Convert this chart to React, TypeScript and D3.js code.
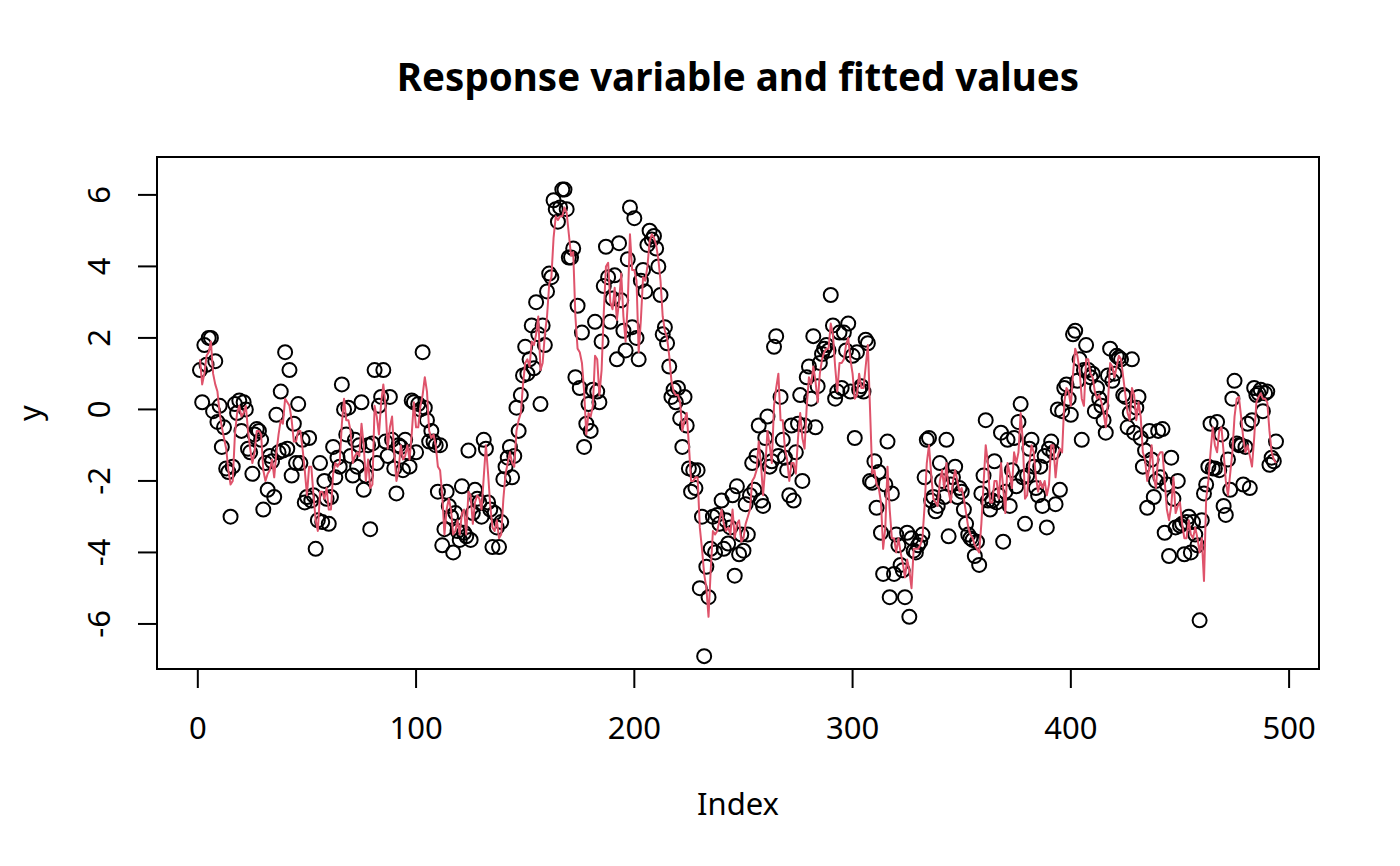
import { useEffect, useRef } from 'react';
import * as d3 from 'd3';

// observed response (Index 1..494)
const yValues: number[] = [
  1.1, 0.2, 1.8, 1.25, 2.0, 2.0, -0.05, 1.35, -0.35, 0.1,
  -1.05, -0.5, -1.65, -1.75, -3.0, -1.6, 0.15, -0.1, 0.25, -0.6,
  0.2, 0.0, -1.1, -1.2, -1.8, -0.7, -0.55, -0.6, -0.85, -2.8,
  -1.5, -2.25, -1.3, -1.45, -2.45, -0.15, -1.2, 0.5, -1.15, 1.6,
  -1.1, 1.1, -1.85, -0.4, -1.5, 0.15, -1.5, -0.85, -2.6, -2.45,
  -0.8, -2.55, -2.4, -3.9, -3.1, -1.5, -3.15, -2.0, -2.5, -3.2,
  -2.45, -1.05, -1.9, -1.35, -1.6, 0.7, 0.0, -0.7, 0.05, -1.3,
  -1.85, -0.85, -1.6, -1.0, 0.2, -2.25, -1.85, -1.0, -3.35, -0.95,
  1.1, -1.5, 0.1, 0.35, 1.1, -0.9, -1.3, 0.35, -0.85, -1.65,
  -2.35, -1.0, -1.05, -1.7, -0.85, -1.2, -1.6, 0.25, 0.2, -1.2,
  0.15, 0.0, 1.6, 0.05, -0.3, -0.9, -0.6, -0.9, -1.0, -2.3,
  -1.0, -3.8, -3.35, -2.3, -2.7, -3.0, -4.0, -2.9, -3.4, -3.65,
  -2.15, -3.45, -3.55, -1.15, -3.65, -2.9, -2.25, -2.5, -2.6, -3.0,
  -0.85, -1.1, -2.6, -2.8, -3.85, -2.9, -3.3, -3.85, -3.15, -1.95,
  -1.6, -1.35, -1.05, -1.9, -1.3, 0.05, -0.6, 0.4, 0.95, 1.75,
  1.0, 1.4, 2.35, 1.15, 3.0, 2.1, 0.15, 2.35, 1.8, 3.3,
  3.8, 3.7, 5.85, 5.6, 5.25, 5.65, 6.15, 6.15, 5.6, 4.25,
  4.25, 4.5, 0.9, 2.9, 0.6, 2.15, -1.05, -0.4, 0.15, -0.6,
  0.55, 2.45, 0.5, 0.2, 1.9, 3.45, 4.55, 3.7, 2.45, 3.1,
  3.75, 1.4, 4.65, 3.05, 2.2, 1.65, 4.2, 5.65, 2.3, 5.35,
  2.0, 1.4, 3.6, 3.9, 3.3, 4.6, 5.0, 4.75, 4.85, 4.5,
  4.0, 3.2, 2.1, 2.3, 1.85, 1.2, 0.35, 0.55, 0.2, 0.6,
  -0.25, -1.05, 0.35, -0.45, -1.65, -2.3, -1.7, -2.2, -1.7, -5.0,
  -3.0, -6.9, -4.4, -5.25, -3.9, -3.0, -4.0, -2.95, -3.2, -2.55,
  -3.9, -3.1, -3.75, -3.3, -2.4, -4.65, -2.15, -4.05, -3.5, -3.95,
  -2.65, -3.5, -2.4, -1.5, -2.25, -1.3, -0.45, -2.55, -2.7, -0.8,
  -0.2, -1.6, -1.45, 1.75, 2.05, -1.3, 0.35, -0.85, -1.35, -1.7,
  -2.4, -0.45, -2.55, -1.2, -0.4, 0.4, -2.0, -0.45, 0.9, 1.2,
  0.3, 2.05, -0.5, 0.65, 1.3, 1.55, 1.7, 1.8, 1.65, 3.2,
  2.35, 0.3, 0.5, 2.15, 0.6, 2.15, 1.65, 2.4, 0.5, 1.5,
  -0.8, 1.6, 0.55, 0.65, 0.5, 1.95, 1.85, -2.0, -2.05, -1.45,
  -2.75, -1.75, -3.45, -4.6, -2.1, -0.9, -5.25, -2.35, -4.6, -3.5,
  -3.8, -4.35, -4.5, -5.25, -3.45, -5.8, -3.6, -3.95, -4.0, -3.8,
  -3.7, -3.5, -1.9, -0.85, -0.8, -2.55, -2.45, -2.85, -2.7, -1.5,
  -2.0, -2.45, -0.85, -3.55, -2.1, -1.9, -1.6, -2.45, -2.2, -2.3,
  -2.8, -3.2, -3.5, -3.6, -3.65, -4.1, -3.7, -4.35, -2.35, -1.85,
  -0.3, -2.55, -2.8, -2.55, -1.45, -2.6, -2.4, -0.65, -3.7, -2.3,
  -0.85, -2.7, -1.7, -0.8, -2.15, -0.35, 0.15, -1.9, -3.2, -1.85,
  -1.1, -0.85, -1.6, -2.2, -2.4, -1.6, -2.7, -1.3, -3.3, -1.1,
  -0.9, -1.2, -2.65, 0.0, -2.25, -0.05, 0.6, 0.7, 0.3, -0.15,
  2.1, 2.2, 0.8, 1.4, -0.85, 1.1, 1.8, 1.1, 0.9, 1.0,
  -0.05, 0.6, 0.3, 0.1, -0.3, -0.65, 0.95, 1.7, 0.8, 1.0,
  1.5, 1.45, 1.4, 0.4, 0.35, -0.5, -0.1, 1.4, -0.65, 0.05,
  0.35, -0.8, -1.6, -1.15, -2.75, -0.6, -1.4, -2.45, -2.0, -0.6,
  -1.9, -0.55, -3.45, -2.1, -4.1, -1.35, -2.5, -3.3, -2.0, -3.25,
  -3.2, -4.05, -3.15, -3.0, -4.0, -3.15, -3.5, -3.8, -5.9, -3.1,
  -2.35, -2.1, -1.6, -0.4, -1.65, -1.65, -0.35, -1.7, -0.7, -2.7,
  -2.95, -1.4, -2.25, 0.3, 0.8, -0.95, -1.0, -1.0, -2.1, -1.05,
  -0.4, -2.2, -0.3, 0.6, 0.4, 0.45, 0.55, -0.05, 0.45, 0.5,
  -1.55, -1.35, -1.45, -0.9,
];

// fitted values (red line)
const fittedValues: number[] = [
  1.4, 0.7, 1.0, 1.5, 1.6, 1.9, 1.0, 0.7, 0.5, -0.1,
  -0.5, -0.8, -1.1, -1.7, -2.1, -2.0, -0.7, -0.1, 0.1, -0.2,
  -0.1, 0.1, -0.6, -1.1, -1.5, -1.2, -0.6, -0.6, -0.7, -1.7,
  -2.0, -1.8, -1.7, -1.4, -1.9, -1.2, -0.7, -0.3, -0.4, 0.3,
  0.2, 0.1, -0.3, -0.9, -0.9, -0.6, -0.6, -1.1, -1.7, -2.4,
  -1.6, -1.6, -2.4, -3.1, -3.4, -2.3, -2.3, -2.5, -2.2, -2.8,
  -2.8, -1.8, -1.5, -1.6, -1.5, -0.4, 0.3, -0.3, -0.3, -0.6,
  -1.5, -1.3, -1.2, -1.3, -0.4, -1.0, -2.0, -1.4, -2.2, -2.1,
  0.1, -0.2, -0.7, 0.2, 0.7, 0.1, -1.1, -0.5, -0.2, -1.2,
  -2.0, -1.7, -1.0, -1.4, -1.3, -1.0, -1.4, -0.7, 0.2, -0.5,
  -0.5, 0.1, 0.4, 0.9, 0.5, -0.6, -0.8, -0.7, -1.0, -1.6,
  -1.7, -2.4, -3.5, -2.8, -2.5, -2.8, -3.5, -3.4, -3.1, -3.5,
  -2.9, -2.8, -3.5, -2.3, -2.4, -3.2, -2.6, -2.4, -2.5, -2.8,
  -1.9, -1.0, -1.8, -2.7, -3.3, -3.4, -3.1, -3.6, -3.5, -2.5,
  -1.8, -1.5, -1.2, -1.5, -1.6, -0.6, -0.3, -0.1, 0.7, 1.3,
  1.4, 1.2, 1.9, 1.8, 2.1, 2.6, 1.1, 1.3, 2.1, 2.6,
  3.5, 3.7, 4.8, 5.4, 5.3, 5.4, 5.4, 5.65, 5.5, 4.9,
  4.3, 4.4, 2.6, 1.7, 1.6, 1.3, 0.5, -0.7, -0.1, -0.2,
  0.1, 1.5, 1.4, 0.4, 1.1, 2.7, 4.0, 4.1, 3.0, 2.8,
  3.4, 2.5, 3.0, 3.8, 2.6, 1.9, 3.0, 4.9, 3.9, 3.9,
  3.6, 1.6, 2.5, 3.7, 3.6, 4.0, 4.7, 4.9, 4.8, 4.6,
  4.2, 3.6, 2.6, 2.2, 2.0, 1.5, 0.8, 0.5, 0.4, 0.4,
  0.2, -0.6, -0.3, -0.1, -1.0, -2.0, -2.0, -1.9, -1.9, -3.3,
  -3.9, -4.6, -5.0, -5.8, -4.5, -3.4, -3.5, -3.4, -3.1, -2.8,
  -3.2, -3.4, -3.3, -3.5, -2.8, -3.6, -3.2, -3.1, -3.7, -3.6,
  -3.2, -3.0, -2.8, -2.0, -1.9, -1.7, -0.9, -1.5, -2.4, -1.6,
  -0.6, -1.0, -1.5, 0.1, 0.6, 1.0, -0.3, -0.3, -1.1, -1.4,
  -2.0, -1.5, -1.5, -1.8, -0.8, -0.1, -0.8, -1.1, 0.1, 0.9,
  0.7, 1.2, 0.8, 0.2, 1.0, 1.4, 1.6, 1.7, 1.7, 2.4,
  2.1, 1.2, 0.5, 1.3, 1.3, 1.4, 1.8, 2.0, 1.4, 1.0,
  0.3, 0.4, 1.0, 0.6, 0.6, 1.2, 1.8, 0.0, -1.8, -1.7,
  -2.1, -2.2, -2.6, -3.9, -3.3, -1.6, -2.8, -3.6, -3.6, -4.0,
  -3.6, -4.0, -4.3, -4.7, -4.2, -4.5, -5.0, -3.9, -3.9, -3.9,
  -3.8, -3.6, -2.7, -1.5, -1.0, -1.8, -2.5, -2.6, -2.7, -2.0,
  -1.7, -2.2, -1.5, -2.3, -2.6, -2.0, -1.7, -2.0, -2.3, -2.2,
  -2.5, -2.9, -3.3, -3.5, -3.6, -3.8, -3.9, -4.0, -3.2, -2.1,
  -1.0, -1.5, -2.6, -2.6, -2.0, -2.0, -2.5, -1.5, -2.2, -2.9,
  -1.5, -1.8, -2.2, -1.2, -1.5, -1.2, -0.1, -0.9, -2.5, -2.4,
  -1.5, -1.0, -1.2, -1.9, -2.3, -2.0, -2.2, -2.0, -2.4, -2.1,
  -1.0, -1.0, -1.9, -1.3, -1.1, -1.2, 0.2, 0.6, 0.5, 0.1,
  1.0, 1.7, 1.5, 1.1, 0.3, 0.1, 1.4, 1.4, 1.0, 0.9,
  0.5, 0.3, 0.4, 0.2, -0.1, -0.5, 0.2, 1.3, 1.2, 0.9,
  1.2, 1.5, 1.4, 0.9, 0.4, -0.1, -0.3, 0.6, 0.4, -0.3,
  0.2, -0.2, -1.2, -1.4, -2.0, -1.6, -1.0, -1.9, -2.2, -1.3,
  -1.2, -1.2, -2.0, -2.8, -3.1, -2.7, -1.9, -2.9, -2.7, -2.6,
  -3.2, -3.6, -3.6, -3.1, -3.5, -3.6, -3.3, -3.6, -4.0, -3.6,
  -4.8, -2.5, -2.0, -1.2, -0.5, -1.0, -1.2, -0.6, -0.5, -1.2,
  -2.0, -2.4, -1.8, -1.2, -0.2, 0.3, 0.35, -0.2, -0.8, -1.2,
  -1.0, -1.3, -1.6, -0.8, 0.2, 0.35, 0.45, 0.3, 0.3, 0.2,
  -0.6, -1.2, -1.4, -1.5,
];

const xTicks = [0, 100, 200, 300, 400, 500];
const yTicks = [-6, -4, -2, 0, 2, 4, 6];

const chartTitle = 'Response variable and fitted values';
const xLabel = 'Index';
const yLabel = 'y';

const WIDTH = 1400;
const HEIGHT = 866;
const FONT = '"Noto Sans", "Open Sans", sans-serif';

export default function App() {
  const svgRef = useRef<SVGSVGElement>(null);

  useEffect(() => {
    if (!svgRef.current) return;
    const svg = d3.select(svgRef.current);
    svg.selectAll('*').remove();

    const box = { left: 157, right: 1319, top: 157, bottom: 669 };

    const x = d3.scaleLinear().domain([-18.7, 513.7]).range([box.left, box.right]);
    const y = d3.scaleLinear().domain([-7.26, 7.06]).range([box.bottom, box.top]);

    svg.append('rect')
      .attr('width', WIDTH)
      .attr('height', HEIGHT)
      .attr('fill', '#ffffff');

    // title
    svg.append('text')
      .attr('x', (box.left + box.right) / 2)
      .attr('y', 91)
      .attr('text-anchor', 'middle')
      .attr('font-family', FONT)
      .attr('font-weight', 'bold')
      .attr('font-size', 38.5)
      .text(chartTitle);

    // points
    const pts = svg.append('g');
    pts.selectAll('circle')
      .data(yValues)
      .join('circle')
      .attr('cx', (_, i) => x(i + 1))
      .attr('cy', d => y(d))
      .attr('r', 7)
      .attr('fill', 'none')
      .attr('stroke', '#000')
      .attr('stroke-width', 2);

    // fitted line
    const line = d3.line<number>()
      .x((_, i) => x(i + 1))
      .y(d => y(d));

    svg.append('path')
      .datum(fittedValues)
      .attr('fill', 'none')
      .attr('stroke', '#DF536B')
      .attr('stroke-width', 2)
      .attr('stroke-linejoin', 'round')
      .attr('d', line);

    // frame
    svg.append('rect')
      .attr('x', box.left)
      .attr('y', box.top)
      .attr('width', box.right - box.left)
      .attr('height', box.bottom - box.top)
      .attr('fill', 'none')
      .attr('stroke', '#000')
      .attr('stroke-width', 2);

    const tickLen = 19;

    // x axis
    const gx = svg.append('g');
    gx.append('line')
      .attr('x1', x(xTicks[0]))
      .attr('x2', x(xTicks[xTicks.length - 1]))
      .attr('y1', box.bottom)
      .attr('y2', box.bottom)
      .attr('stroke', '#000')
      .attr('stroke-width', 2);
    gx.selectAll('line.tick')
      .data(xTicks)
      .join('line')
      .attr('class', 'tick')
      .attr('x1', d => x(d))
      .attr('x2', d => x(d))
      .attr('y1', box.bottom)
      .attr('y2', box.bottom + tickLen)
      .attr('stroke', '#000')
      .attr('stroke-width', 2);
    gx.selectAll('text')
      .data(xTicks)
      .join('text')
      .attr('x', d => x(d))
      .attr('y', 739)
      .attr('text-anchor', 'middle')
      .attr('font-family', FONT)
      .attr('font-size', 31)
      .text(d => String(d));

    // y axis
    const gy = svg.append('g');
    gy.append('line')
      .attr('x1', box.left)
      .attr('x2', box.left)
      .attr('y1', y(yTicks[0]))
      .attr('y2', y(yTicks[yTicks.length - 1]))
      .attr('stroke', '#000')
      .attr('stroke-width', 2);
    gy.selectAll('line.tick')
      .data(yTicks)
      .join('line')
      .attr('class', 'tick')
      .attr('x1', box.left - tickLen)
      .attr('x2', box.left)
      .attr('y1', d => y(d))
      .attr('y2', d => y(d))
      .attr('stroke', '#000')
      .attr('stroke-width', 2);
    gy.selectAll('text')
      .data(yTicks)
      .join('text')
      .attr('transform', d => `translate(110,${y(d)}) rotate(-90)`)
      .attr('text-anchor', 'middle')
      .attr('font-family', FONT)
      .attr('font-size', 31)
      .text(d => String(d));

    // axis titles
    svg.append('text')
      .attr('x', (box.left + box.right) / 2)
      .attr('y', 815)
      .attr('text-anchor', 'middle')
      .attr('font-family', FONT)
      .attr('font-size', 31)
      .text(xLabel);

    svg.append('text')
      .attr('transform', `translate(41,${(box.top + box.bottom) / 2}) rotate(-90)`)
      .attr('text-anchor', 'middle')
      .attr('font-family', FONT)
      .attr('font-size', 31)
      .text(yLabel);
  }, []);

  return (
    <svg
      ref={svgRef}
      width={WIDTH}
      height={HEIGHT}
      style={{ position: 'absolute', left: 0, top: 0 }}
    />
  );
}
